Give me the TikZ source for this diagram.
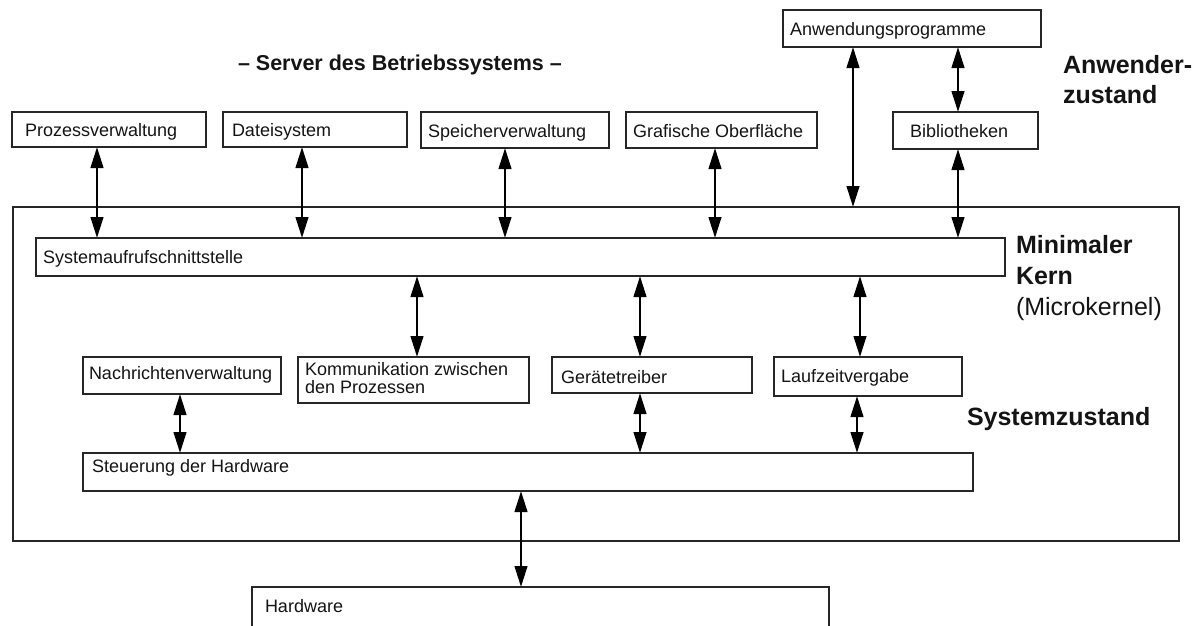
\documentclass[tikz,border=0pt]{standalone}
\usepackage{fontspec}
\setmainfont{Liberation Sans}
\usetikzlibrary{arrows.meta}

\tikzset{
  box/.style={draw=black!85, line width=1.8pt, fill=white, rectangle,
    inner sep=0pt, outer sep=0pt},
  txt/.style={inner sep=0pt, outer sep=0pt, text=black!92,
    font=\fontsize{18}{21}\selectfont},
  head/.style={inner sep=0pt, outer sep=0pt, text=black!92, align=left,
    font=\fontsize{25}{30.5}\selectfont\bfseries},
  arr/.style={line width=2.7pt, black,
    {Triangle[length=21pt,width=12.5pt]}-{Triangle[length=21pt,width=12.5pt]}},
}

% rectangle from its corners (x1,y1) to (x2,y2), y counted downwards
\newcommand{\cornerbox}[5]{%
  \node[box, minimum width={#4-#2}, minimum height={#5-#3}]
    (#1) at ({(#2+#4)/2},{(#3+#5)/2}) {};}

\begin{document}
\begin{tikzpicture}[x=1pt, y=-1pt]
\useasboundingbox (0,0) rectangle (1200,625);
\clip (0,0) rectangle (1200,625);
\fill[white] (0,0) rectangle (1200,625);

% kernel frame
\cornerbox{kern}{13}{207}{1179}{541}

% servers of the operating system
\cornerbox{pv}{12}{112}{206}{147}
\cornerbox{ds}{223}{112}{407}{147}
\cornerbox{sv}{421}{112}{609}{148}
\cornerbox{go}{626}{112}{817}{148}
\cornerbox{bib}{893}{112}{1038}{149}
\cornerbox{anw}{783}{10}{1041}{47}

% inside the kernel
\cornerbox{sys}{36}{238}{1005}{276}
\cornerbox{nv}{83}{357}{281}{394}
\cornerbox{kom}{298}{357}{529}{403}
\cornerbox{gt}{552}{357}{752}{393}
\cornerbox{lz}{774}{357}{962}{396}
\cornerbox{st}{83}{453}{973}{491}

% hardware (runs off the lower edge)
\cornerbox{hw}{252}{587}{829}{660}

% box texts
\node[txt, anchor=base west] (t-pv)  at (25,136)  {Prozessverwaltung};
\node[txt, anchor=base west] (t-ds)  at (232,136) {Dateisystem};
\node[txt, anchor=base west] (t-sv)  at (428,137) {Speicherverwaltung};
\node[txt, anchor=base west] (t-go)  at (633,137) {Grafische Oberfläche};
\node[txt, anchor=base west] (t-bib) at (910,137) {Bibliotheken};
\node[txt, anchor=base west] (t-anw) at (790,35)  {Anwendungsprogramme};
\node[txt, anchor=base west] (t-sys) at (43,263)  {Systemaufrufschnittstelle};
\node[txt, anchor=base west] (t-nv)  at (89,379)  {Nachrichtenverwaltung};
\node[txt, anchor=base west] (t-kom1) at (305,375) {Kommunikation zwischen};
\node[txt, anchor=base west] (t-kom2) at (305,393) {den Prozessen};
\node[txt, anchor=base west] (t-gt)  at (561,383) {Gerätetreiber};
\node[txt, anchor=base west] (t-lz)  at (781,382) {Laufzeitvergabe};
\node[txt, anchor=base west] (t-st)  at (92,472)  {Steuerung der Hardware};
\node[txt, anchor=base west] (t-hw)  at (265,612) {Hardware};

% headings
\node[head, anchor=base west, font=\fontsize{21.5}{25}\selectfont\bfseries]
  (title) at (238,70) {– Server des Betriebssystems –};
\node[head, anchor=base west] (anwz1) at (1063,73)  {Anwender-};
\node[head, anchor=base west] (anwz2) at (1063,103) {zustand};
\node[head, anchor=base west] (mk1) at (1016,253) {Minimaler};
\node[head, anchor=base west] (mk2) at (1016,284) {Kern};
\node[head, anchor=base west, font=\fontsize{25}{30}\selectfont]
  (mk3) at (1016,315) {(Microkernel)};
\node[head, anchor=base west] (sz) at (967,425) {Systemzustand};

% x positions of the connectors
\coordinate (xa) at (97,0);
\coordinate (xb) at (302,0);
\coordinate (xc) at (505,0);
\coordinate (xd) at (715,0);
\coordinate (xe) at (958,0);
\coordinate (xf) at (853,0);
\coordinate (xg) at (417,0);
\coordinate (xh) at (640,0);
\coordinate (xi) at (860,0);
\coordinate (xj) at (180,0);
\coordinate (xk) at (857,0);
\coordinate (xl) at (521,0);

% connectors
\draw[arr] (pv.south -| xa) -- (sys.north -| xa);
\draw[arr] (ds.south -| xb) -- (sys.north -| xb);
\draw[arr] (sv.south -| xc) -- (sys.north -| xc);
\draw[arr] (go.south -| xd) -- (sys.north -| xd);
\draw[arr] (bib.south -| xe) -- (sys.north -| xe);
\draw[arr] (anw.south -| xe) -- (bib.north -| xe);
\draw[arr] (anw.south -| xf) -- (kern.north -| xf);
\draw[arr] (sys.south -| xg) -- (kom.north -| xg);
\draw[arr] (sys.south -| xh) -- (gt.north -| xh);
\draw[arr] (sys.south -| xi) -- (lz.north -| xi);
\draw[arr] (nv.south -| xj) -- (st.north -| xj);
\draw[arr] (gt.south -| xh) -- (st.north -| xh);
\draw[arr] (lz.south -| xk) -- (st.north -| xk);
\draw[arr] (st.south -| xl) -- (hw.north -| xl);
\end{tikzpicture}
\end{document}
